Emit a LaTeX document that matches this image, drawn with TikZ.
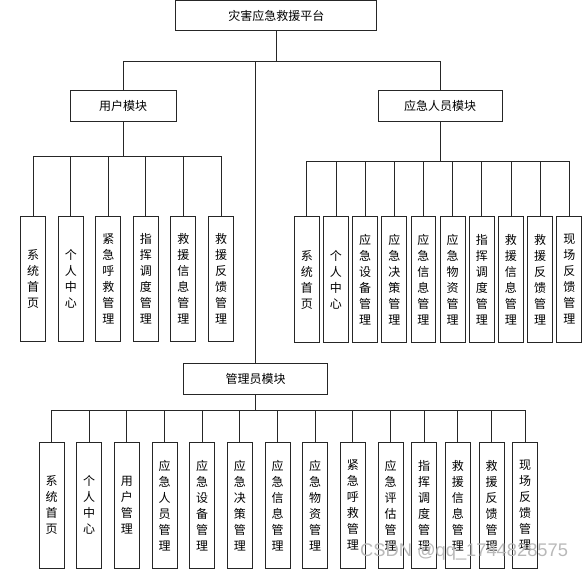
\documentclass[tikz,border=0pt]{standalone}
\usepackage{fontspec}
\newfontfamily\cjk{Noto Sans CJK SC}
\newfontfamily\wmfont{Liberation Sans}
\begin{document}
\begin{tikzpicture}[x=1pt,y=-1pt,
  box/.style={draw=black!85,line width=1pt,fill=white,inner sep=0pt,
    font=\cjk\fontsize{12}{16}\selectfont},
  hbox/.style={box,minimum height=30.6pt},
  vbox/.style={box,minimum width=25pt,minimum height=125.5pt,align=center},
  link/.style={draw=black!85,line width=0.9pt}]
\useasboundingbox (0,0) rectangle (586,572);
% level 0 and 1
\node[hbox,minimum width=201.3pt] (root) at (276.3,15.7) {灾害应急救援平台};
\node[hbox,minimum width=105.7pt] (user) at (123.2,106) {用户模块};
\node[hbox,minimum width=124.3pt] (emg) at (440.2,106) {应急人员模块};
\node[hbox,minimum width=144pt] (admin) at (255.7,378.7) {管理员模块};
\coordinate (rbus) at (276.3,61);
\draw[link] (root.south) -- (rbus);
\draw[link] (user.north) |- (rbus);
\draw[link] (emg.north) |- (rbus);
\draw[link] (admin.north) |- (rbus);
% user children
\coordinate (ubus) at (123.2,156);
\draw[link] (user.south) -- (ubus);
\foreach \t [count=\i from 0] in {
  {系\\统\\首\\页},{个\\人\\中\\心},{紧\\急\\呼\\救\\管\\理},
  {指\\挥\\调\\度\\管\\理},{救\\援\\信\\息\\管\\理},{救\\援\\反\\馈\\管\\理}}{
  \node[vbox] (u\i) at ({33.2+37.56*\i},279.2) {\t};
  \draw[link] (u\i.north) |- (ubus);
}
% emergency children
\coordinate (ebus) at (440.2,161.3);
\draw[link] (emg.south) -- (ebus);
\foreach \t [count=\i from 0] in {
  {系\\统\\首\\页},{个\\人\\中\\心},{应\\急\\设\\备\\管\\理},
  {应\\急\\决\\策\\管\\理},{应\\急\\信\\息\\管\\理},{应\\急\\物\\资\\管\\理},
  {指\\挥\\调\\度\\管\\理},{救\\援\\信\\息\\管\\理},{救\\援\\反\\馈\\管\\理},
  {现\\场\\反\\馈\\管\\理}}{
  \node[vbox,minimum width=24.7pt,minimum height=125.6pt] (e\i) at ({306.8+29.17*\i},279.5) {\t};
  \draw[link] (e\i.north) |- (ebus);
}
% admin children
\coordinate (abus) at (255.7,410.3);
\draw[link] (admin.south) -- (abus);
\foreach \x/\t [count=\i from 0] in {
  51.7/{系\\统\\首\\页},89.2/{个\\人\\中\\心},126.8/{用\\户\\管\\理},
  164.5/{应\\急\\人\\员\\管\\理},202.2/{应\\急\\设\\备\\管\\理},
  239.8/{应\\急\\决\\策\\管\\理},277.5/{应\\急\\信\\息\\管\\理},
  315.2/{应\\急\\物\\资\\管\\理},352.8/{紧\\急\\呼\\救\\管\\理},
  390.5/{应\\急\\评\\估\\管\\理},424.2/{指\\挥\\调\\度\\管\\理},
  457.8/{救\\援\\信\\息\\管\\理},491.5/{救\\援\\反\\馈\\管\\理},
  525.2/{现\\场\\反\\馈\\管\\理}}{
  \node[vbox,minimum height=126pt] (a\i) at (\x,505.3) {\t};
  \draw[link] (a\i.north) |- (abus);
}
% watermark
\node[anchor=base west,inner sep=0pt,text=gray!55,
  font=\wmfont\fontsize{18.3}{18.3}\selectfont] (wm) at (360,556.7) {CSDN @qq\_1744828575};
\end{tikzpicture}
\end{document}
